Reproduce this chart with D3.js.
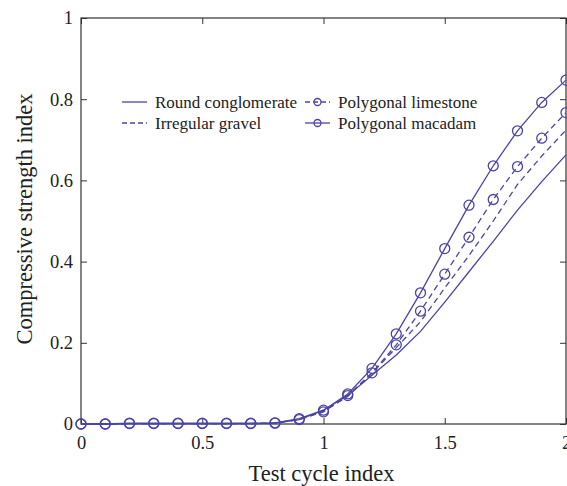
<!DOCTYPE html>
<html>
<head>
<meta http-equiv="Content-Type" content="text/html; charset=UTF-8">
<style>
body { margin: 0; background: #fff; }
text { font-family: "Liberation Serif", "Times New Roman", "DejaVu Serif", serif; fill: #222; }
.line { fill: none; stroke: #4b44a6; stroke-width: 1.3px; }
.dot { fill: none; stroke: #4b44a6; stroke-width: 1.3px; }
.frame { fill: none; stroke: #333; stroke-width: 1.2px; }
</style>
</head>
<body>
<svg width="567" height="486"></svg>
<script src="https://cdn.jsdelivr.net/npm/d3@7"></script>
<script>

var cycles = [0, 0.1, 0.2, 0.3, 0.4, 0.5, 0.6, 0.7, 0.8, 0.9, 1.0,
              1.1, 1.2, 1.3, 1.4, 1.5, 1.6, 1.7, 1.8, 1.9, 2.0];

var roundConglomerate = [0, 0, 0.001, 0.001, 0.001, 0.001, 0.001, 0.001, 0.002, 0.011, 0.034,
                         0.070, 0.120, 0.170, 0.228, 0.300, 0.375, 0.450, 0.527, 0.597, 0.663];
var irregularGravel   = [0, 0, 0.001, 0.001, 0.001, 0.001, 0.001, 0.001, 0.002, 0.012, 0.031,
                         0.068, 0.125, 0.188, 0.252, 0.335, 0.415, 0.500, 0.590, 0.660, 0.724];
var polygonalLimestone = [0, 0, 0.001, 0.001, 0.001, 0.001, 0.001, 0.001, 0.002, 0.011, 0.030,
                          0.070, 0.126, 0.195, 0.278, 0.369, 0.460, 0.553, 0.634, 0.704, 0.767];
var polygonalMacadam  = [0, 0, 0.002, 0.002, 0.002, 0.002, 0.002, 0.002, 0.003, 0.013, 0.034,
                         0.074, 0.137, 0.222, 0.323, 0.432, 0.539, 0.636, 0.722, 0.792, 0.847];

var xTicks = [0, 0.5, 1, 1.5, 2];
var yTicks = [0, 0.2, 0.4, 0.6, 0.8, 1];

var series = [
    { name: "Round conglomerate", values: roundConglomerate, dash: null, marker: false },
    { name: "Irregular gravel", values: irregularGravel, dash: "6,4", marker: false },
    { name: "Polygonal limestone", values: polygonalLimestone, dash: "6,4", marker: true },
    { name: "Polygonal macadam", values: polygonalMacadam, dash: null, marker: true }
];

var svg = d3.select("svg"),
    margin = {top: 18, right: 1, bottom: 62, left: 81},
    width = +svg.attr("width") - margin.left - margin.right,
    height = +svg.attr("height") - margin.top - margin.bottom,
    g = svg.append("g").attr("transform", "translate(" + margin.left + "," + margin.top + ")");

var x = d3.scaleLinear().domain([0, 2]).range([0, width]);
var y = d3.scaleLinear().domain([0, 1]).range([height, 0]);

var fmt = function(d) { return d3.format("")(d); };

// axes with inward ticks, mirrored on top and right
var axB = g.append("g")
    .attr("transform", "translate(0," + height + ")")
    .call(d3.axisBottom(x).tickValues(xTicks).tickSize(-6).tickPadding(12).tickFormat(fmt));
var axL = g.append("g")
    .call(d3.axisLeft(y).tickValues(yTicks).tickSize(-6).tickPadding(8).tickFormat(fmt));
var axT = g.append("g")
    .call(d3.axisTop(x).tickValues(xTicks).tickSize(-6).tickFormat(""));
var axR = g.append("g")
    .attr("transform", "translate(" + width + ",0)")
    .call(d3.axisRight(y).tickValues(yTicks).tickSize(-6).tickFormat(""));

[axB, axL, axT, axR].forEach(function(a) {
  a.select(".domain").remove();
  a.selectAll(".tick line").attr("stroke", "#333");
  a.selectAll("text").attr("font-size", 18.5).attr("fill", "#222");
});
axB.selectAll("text").attr("dy", "0.71em");

g.append("rect")
    .attr("class", "frame")
    .attr("width", width)
    .attr("height", height);

var line = d3.line()
    .x(function(d, i) { return x(cycles[i]); })
    .y(function(d) { return y(d); });

series.forEach(function(s) {
  g.append("path")
      .datum(s.values)
      .attr("class", "line")
      .attr("stroke-dasharray", s.dash)
      .attr("d", line);
  if (s.marker) {
    g.selectAll(null)
        .data(s.values)
      .enter().append("circle")
        .attr("class", "dot")
        .attr("cx", function(d, i) { return x(cycles[i]); })
        .attr("cy", function(d) { return y(d); })
        .attr("r", 5);
  }
});

// legend
var legend = g.append("g").attr("transform", "translate(41,84)");
var legItems = legend.selectAll("g")
    .data(series)
  .enter().append("g")
    .attr("transform", function(d, i) {
      var col = i < 2 ? 0 : 1, row = i % 2;
      return "translate(" + (col * 183) + "," + (row * 21) + ")";
    });

legItems.append("line")
    .attr("class", "line")
    .attr("x1", 0).attr("x2", 25)
    .attr("stroke-dasharray", function(d) { return d.dash ? "5,3" : null; });
legItems.filter(function(d) { return d.marker; }).append("circle")
    .attr("class", "dot")
    .attr("cx", 12.5)
    .attr("r", 3.5);
legItems.append("text")
    .attr("x", 33)
    .attr("dy", "0.35em")
    .attr("font-size", 17)
    .text(function(d) { return d.name; });

// axis titles
g.append("text")
    .attr("x", width / 2 - 2)
    .attr("y", height + 57)
    .attr("text-anchor", "middle")
    .attr("font-size", 22.5)
    .text("Test cycle index");

g.append("text")
    .attr("transform", "rotate(-90)")
    .attr("x", -height / 2 + 2)
    .attr("y", -49)
    .attr("text-anchor", "middle")
    .attr("font-size", 22.5)
    .text("Compressive strength index");

</script>
</body></html>
